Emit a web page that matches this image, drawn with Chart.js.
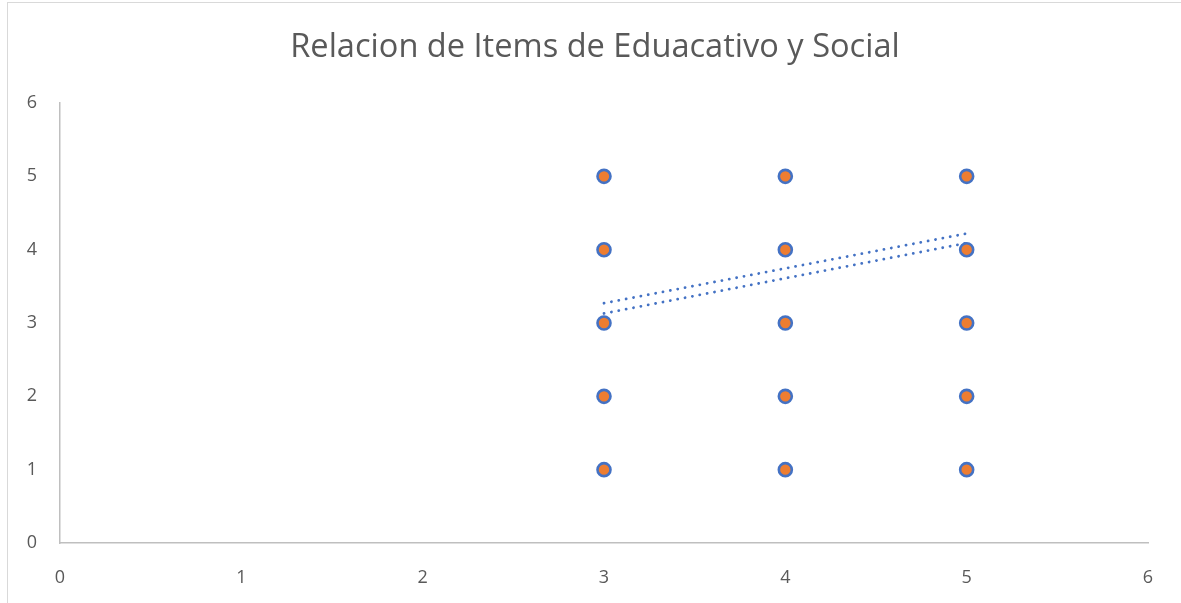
<!DOCTYPE html>
<html>
<head>
<meta charset="utf-8">
<script src="https://cdn.jsdelivr.net/npm/chart.js@4.4.1/dist/chart.umd.min.js"></script>
<style>
  html, body { margin: 0; padding: 0; background: #fff; }
  #wrap { position: relative; width: 1181px; height: 603px; }
  #frame { position: absolute; left: 7px; top: 2px; right: 0; bottom: 0;
           border-left: 1.5px solid #d9d9d9; border-top: 1.5px solid #d9d9d9; pointer-events: none; }
</style>
</head>
<body>
<div id="wrap">
  <canvas id="chart" width="1181" height="603"></canvas>
  <div id="frame"></div>
</div>
<script>
// puntos (x = Educativo, y = Social)
const puntosX = [3, 3, 3, 3, 3, 4, 4, 4, 4, 4, 5, 5, 5, 5, 5]
const puntosY = [1, 2, 3, 4, 5, 1, 2, 3, 4, 5, 1, 2, 3, 4, 5]

// lineas de tendencia, extremos
const tendenciaX = [3, 5]
const tendencia1Y = [3.27, 4.22]
const tendencia2Y = [3.13, 4.09]

const ejeTicks = [0, 1, 2, 3, 4, 5, 6]
const titulo = 'Relacion de Items de Eduacativo y Social'

const azul = '#4472c4'
const naranja = '#ed7d31'
const gris = '#595959'
const font = '"Open Sans", Lato, sans-serif'

const toPts = (xs, ys) => xs.map((x, i) => ({ x: x, y: ys[i] }))

const trendStyle = {
  type: 'line',
  showLine: true,
  borderColor: azul,
  borderWidth: 2.8,
  borderDash: [0.1, 7.4],
  borderCapStyle: 'round',
  pointRadius: 0,
  fill: false,
  tension: 0
}

// padding izq. un poco mayor para centrar el titulo como en el original
const padIzq = 9

new Chart(document.getElementById('chart'), {
  type: 'scatter',
  data: {
    datasets: [
      Object.assign({ label: 'Tendencia 1', data: toPts(tendenciaX, tendencia1Y), order: 2 }, trendStyle),
      Object.assign({ label: 'Tendencia 2', data: toPts(tendenciaX, tendencia2Y), order: 2 }, trendStyle),
      {
        label: 'Social',
        data: toPts(puntosX, puntosY),
        backgroundColor: naranja,
        borderColor: azul,
        borderWidth: 2.6,
        pointRadius: 6.5,
        order: 1
      }
    ]
  },
  options: {
    responsive: false,
    animation: false,
    layout: { padding: { left: padIzq, right: 0, top: 0, bottom: 0 } },
    plugins: {
      legend: { display: false },
      tooltip: { enabled: false },
      title: {
        display: true,
        text: titulo,
        color: gris,
        font: { family: font, size: 32.6, weight: 'normal', lineHeight: 1.2 },
        padding: { top: 28, bottom: 35.9 }
      }
    },
    scales: {
      x: {
        type: 'linear',
        min: 0,
        max: 6,
        afterBuildTicks: s => { s.ticks = ejeTicks.map(v => ({ value: v })) },
        afterFit: s => { s.height = 60; s.paddingRight = 33 },
        grid: { display: false, drawTicks: false },
        border: { display: true, color: '#bfbfbf', width: 1.5 },
        ticks: { color: gris, padding: 24, font: { family: font, size: 18 } }
      },
      y: {
        type: 'linear',
        min: 0,
        max: 6,
        afterBuildTicks: s => { s.ticks = ejeTicks.map(v => ({ value: v })) },
        afterFit: s => { s.width = 60 - padIzq },
        grid: { display: false, drawTicks: false },
        border: { display: true, color: '#bfbfbf', width: 1.5 },
        ticks: { color: gris, padding: 23, font: { family: font, size: 18 } }
      }
    }
  }
})
</script>
</body>
</html>
